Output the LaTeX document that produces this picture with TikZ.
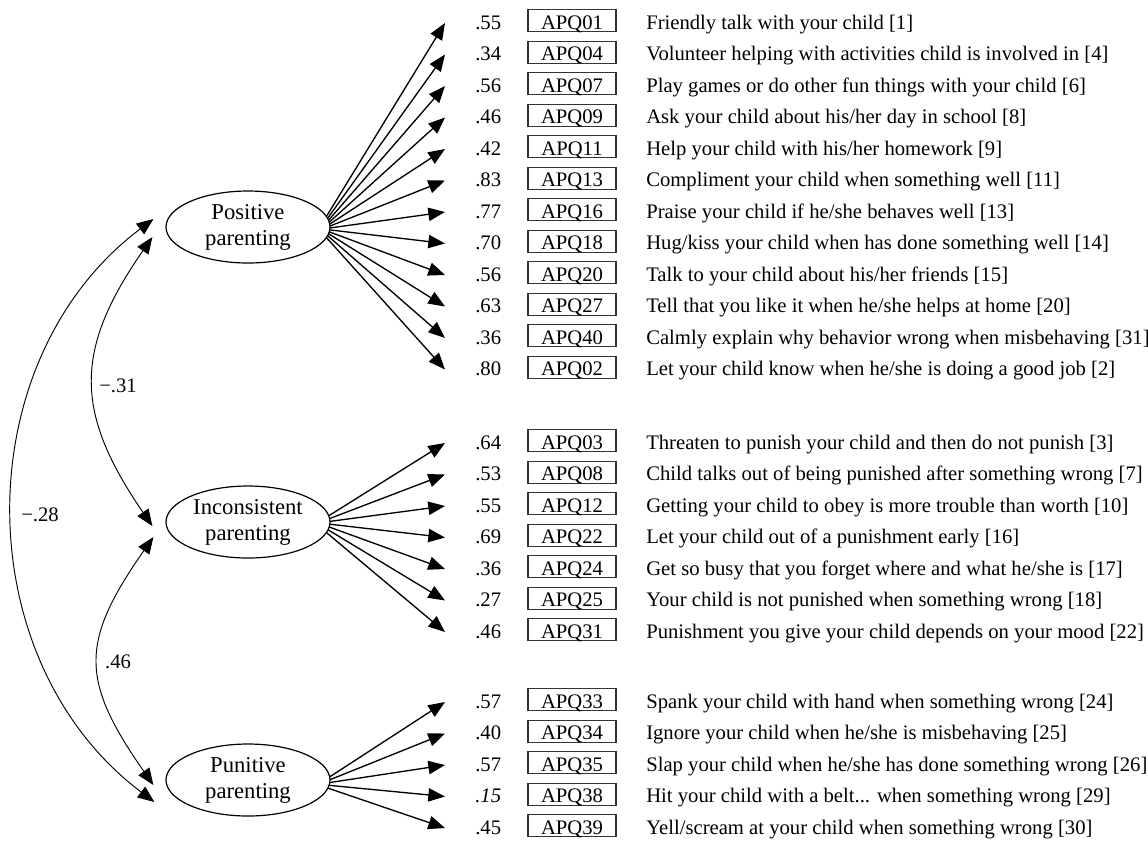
\documentclass[tikz,border=0pt]{standalone}
\usepackage{fontspec}
\setmainfont{Liberation Serif}
\usetikzlibrary{arrows.meta,calc,shapes.geometric}
\newcommand\apqrow[7]{%
  \coordinate (t#1) at (445,#2);
  \node[load] (l#1) at (475,{#2+6.3}) {#3};
  \node[apq] (b#1) at (572,{#2+6.3}) {#4};
  \node[desc] (d#1) at (646,{#2+6.3}) {#5};
  \draw[fan] ($(#6.center)+({82*cos(#7)},{36*sin(#7)})$) -- (t#1);
}
\begin{document}
\begin{tikzpicture}[x=0.75pt,y=-0.75pt,
  font=\fontsize{15.5pt}{18.75pt}\selectfont,
  latent/.style={ellipse,draw,line width=0.9pt,minimum width=123pt,minimum height=54pt,inner sep=0pt,align=center,font=\fontsize{17pt}{19.5pt}\selectfont},
  load/.style={anchor=base west,inner sep=0pt},
  apq/.style={anchor=base,draw=black!80,line width=0.9pt,inner sep=0pt,minimum width=66pt,text height=14.7pt,text depth=1.8pt},
  desc/.style={anchor=base west,inner sep=0pt},
  fan/.style={line width=1pt,-{Triangle[length=12.5pt,width=10pt]}},
  cov/.style={line width=0.7pt,{Triangle[length=12.5pt,width=10pt]}-{Triangle[length=12.5pt,width=10pt]}},
  clab/.style={inner sep=0pt}]
\useasboundingbox (0,0) rectangle (1148,840);

\node[latent] (pos) at (248,227) {Positive\\parenting};
\node[latent] (inc) at (248,522) {Inconsistent\\parenting};
\node[latent] (pun) at (248,780) {Punitive\\parenting};

% Positive parenting
\apqrow{01}{23}{.55}{APQ01}{Friendly talk with your child [1]}{pos}{-17}
\apqrow{04}{54.5}{.34}{APQ04}{Volunteer helping with activities child is involved in [4]}{pos}{-13.9}
\apqrow{07}{86}{.56}{APQ07}{Play games or do other fun things with your child [6]}{pos}{-10.8}
\apqrow{09}{117.5}{.46}{APQ09}{Ask your child about his/her day in school [8]}{pos}{-7.7}
\apqrow{11}{149}{.42}{APQ11}{Help your child with his/her homework [9]}{pos}{-4.6}
\apqrow{13}{180.5}{.83}{APQ13}{Compliment your child when something well [11]}{pos}{-1.5}
\apqrow{16}{212}{.77}{APQ16}{Praise your child if he/she behaves well [13]}{pos}{1.5}
\apqrow{18}{243.5}{.70}{APQ18}{Hug/kiss your child when has done something well [14]}{pos}{4.6}
\apqrow{20}{275}{.56}{APQ20}{Talk to your child about his/her friends [15]}{pos}{7.7}
\apqrow{27}{306.5}{.63}{APQ27}{Tell that you like it when he/she helps at home [20]}{pos}{10.8}
\apqrow{40}{338}{.36}{APQ40}{Calmly explain why behavior wrong when misbehaving [31]}{pos}{13.9}
\apqrow{02}{369.5}{.80}{APQ02}{Let your child know when he/she is doing a good job [2]}{pos}{17}

% Inconsistent parenting
\apqrow{03}{443}{.64}{APQ03}{Threaten to punish your child and then do not punish [3]}{inc}{-10}
\apqrow{08}{474.5}{.53}{APQ08}{Child talks out of being punished after something wrong [7]}{inc}{-5.5}
\apqrow{12}{506}{.55}{APQ12}{Getting your child to obey is more trouble than worth [10]}{inc}{-1}
\apqrow{22}{537.5}{.69}{APQ22}{Let your child out of a punishment early [16]}{inc}{3.5}
\apqrow{24}{569}{.36}{APQ24}{Get so busy that you forget where and what he/she is [17]}{inc}{8}
\apqrow{25}{600.5}{.27}{APQ25}{Your child is not punished when something wrong [18]}{inc}{12.5}
\apqrow{31}{632}{.46}{APQ31}{Punishment you give your child depends on your mood [22]}{inc}{17}

% Punitive parenting
\apqrow{33}{702}{.57}{APQ33}{Spank your child with hand when something wrong [24]}{pun}{-5}
\apqrow{34}{733.5}{.40}{APQ34}{Ignore your child when he/she is misbehaving [25]}{pun}{-0.5}
\apqrow{35}{765}{.57}{APQ35}{Slap your child when he/she has done something wrong [26]}{pun}{4}
\apqrow{38}{796.5}{\textit{.15}}{APQ38}{Hit your child with a belt... when something wrong [29]}{pun}{8.5}
\apqrow{39}{828}{.45}{APQ39}{Yell/scream at your child when something wrong [30]}{pun}{13}

% covariance end points
\coordinate (posA) at ($(pos.west)+(-12,-8)$);
\coordinate (posB) at ($(pos.west)+(-13,10)$);
\coordinate (incA) at ($(inc.west)+(-13,4)$);
\coordinate (incB) at ($(inc.west)+(-12,15)$);
\coordinate (punA) at ($(pun.west)+(-12,5)$);
\coordinate (punB) at ($(pun.west)+(-11,22)$);

\draw[cov] (posA) .. controls (-34,360) and (-34,660) .. (punB);
\draw[cov] (posB) .. controls (74,350) and (74,412) .. (incA);
\draw[cov] (incB) .. controls (80,642) and (80,680) .. (punA);

\node[clab] (c1) at (118,386) {−.31};
\node[clab] (c2) at (40,515) {−.28};
\node[clab] (c3) at (118,662) {.46};
\end{tikzpicture}
\end{document}
